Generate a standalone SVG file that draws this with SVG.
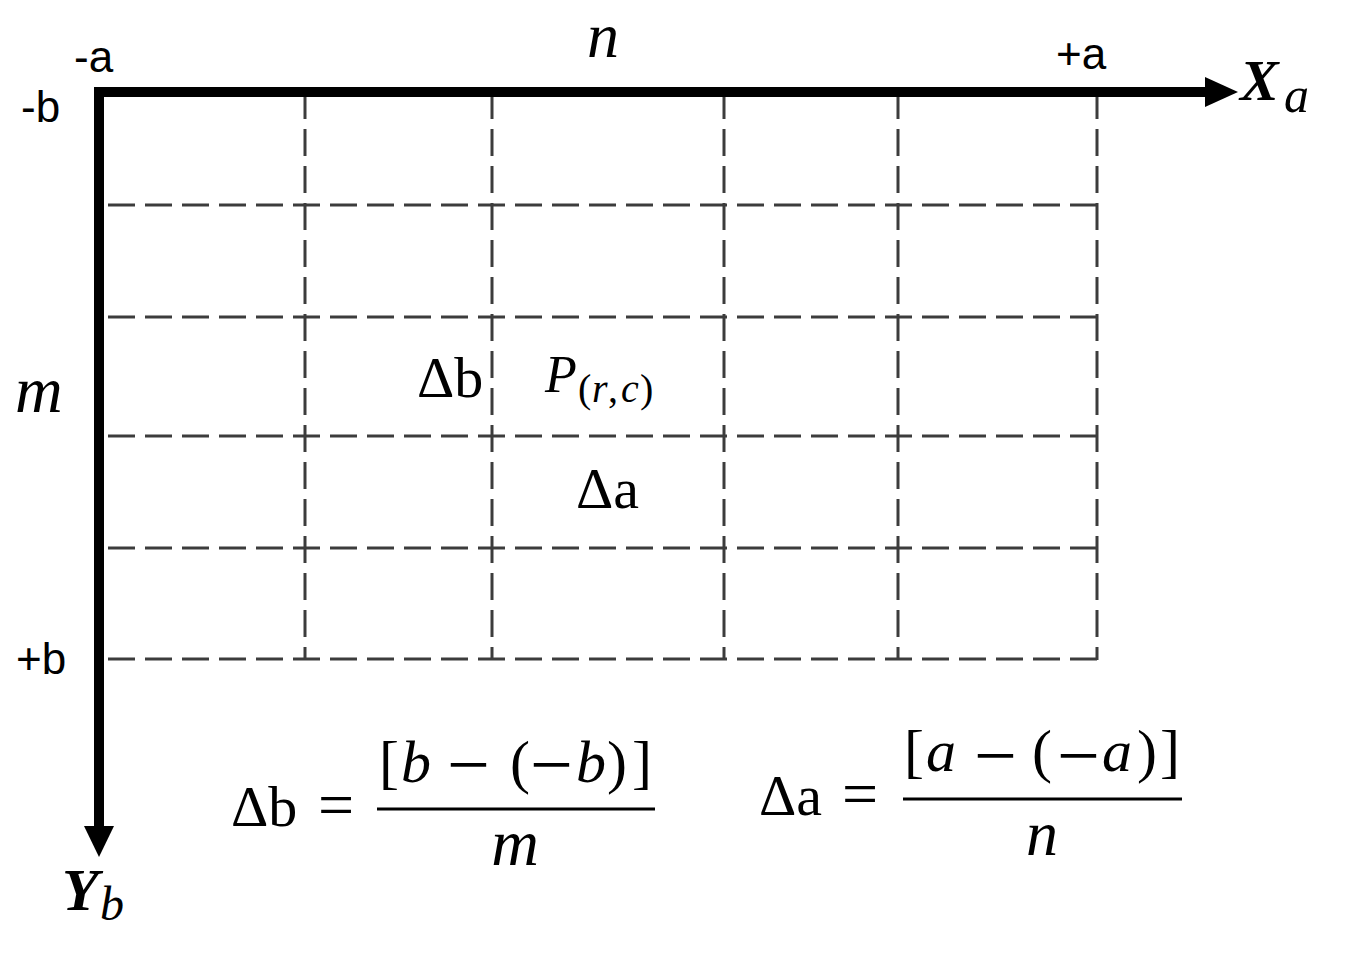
<svg xmlns="http://www.w3.org/2000/svg" width="1346" height="962" viewBox="0 0 1346 962">
<style>
.grid line{stroke:#3c3c3c;stroke-width:3;stroke-dasharray:27 10;fill:none}
.axis{stroke:#000;stroke-width:10;fill:none}
.head{fill:#000}
.sans{font-family:"Liberation Sans",Arial,sans-serif;font-size:44px;fill:#000}
.ser{font-family:"Liberation Serif","Times New Roman",serif;fill:#000}
.it{font-style:italic}
.mn{font-size:76px}
.bar{stroke:#000;stroke-width:3}
</style>
<rect width="1346" height="962" fill="#fff"/>
<g id="grid" class="grid">
<line x1="108" y1="205" x2="1097" y2="205"/>
<line x1="108" y1="317" x2="1097" y2="317"/>
<line x1="108" y1="436" x2="1097" y2="436"/>
<line x1="108" y1="548" x2="1097" y2="548"/>
<line x1="108" y1="659" x2="1097" y2="659"/>
<line x1="305" y1="92" x2="305" y2="660"/>
<line x1="492" y1="92" x2="492" y2="660"/>
<line x1="724" y1="92" x2="724" y2="660"/>
<line x1="898" y1="92" x2="898" y2="660"/>
<line x1="1097" y1="92" x2="1097" y2="660"/>
</g>
<g id="connectors">
<line class="axis" x1="94" y1="92" x2="1210" y2="92"/>
<polygon class="head" points="1205,77 1238,92 1205,107"/>
<line class="axis" x1="99" y1="87" x2="99" y2="830"/>
<polygon class="head" points="84,826 114,826 99,857"/>
</g>
<g id="axis-labels">
<text class="sans" x="74" y="72">-a</text>
<text class="sans" x="21" y="122">-b</text>
<text class="sans" x="1056" y="69">+a</text>
<text class="sans" x="16" y="674">+b</text>
<text class="ser it" x="587" y="57" font-size="64">n</text>
<text class="ser it" x="15" y="412" font-size="66">m</text>
<text class="ser it" font-weight="bold" x="1240" y="100" font-size="58">X</text>
<text class="ser it" x="1284" y="112" font-size="50">a</text>
<text class="ser it" font-weight="bold" x="62" y="910" font-size="60">Y</text>
<text class="ser it" x="100" y="920" font-size="48">b</text>
</g>
<g id="cell-labels">
<text class="ser" x="417" y="397" font-size="58">Δb</text>
<text class="ser it" x="545" y="392" font-size="52">P</text>
<text class="ser" y="402" font-size="40"><tspan x="578">(</tspan><tspan class="it" x="592">r</tspan><tspan x="608">,</tspan><tspan class="it" x="621">c</tspan><tspan x="640">)</tspan></text>
<text class="ser" x="576" y="508" font-size="58">Δa</text>
</g>
<g id="formula-b">
<text class="ser" x="231" y="826" font-size="58">Δb</text>
<text class="ser" x="318" y="826" font-size="64">=</text>
<text class="ser" font-size="60"><tspan x="379" y="782">[</tspan><tspan class="it" x="401" y="782">b</tspan><tspan class="mn" x="447" y="790">−</tspan><tspan x="510" y="782">(</tspan><tspan class="mn" x="530" y="790">−</tspan><tspan class="it" x="576" y="782">b</tspan><tspan x="607" y="782">)</tspan><tspan x="632" y="782">]</tspan></text>
<line class="bar" x1="377" y1="809" x2="655" y2="809"/>
<text class="ser it" x="515" y="865" font-size="66" text-anchor="middle">m</text>
</g>
<g id="formula-a">
<text class="ser" x="759" y="815" font-size="58">Δa</text>
<text class="ser" x="842" y="815" font-size="64">=</text>
<text class="ser" font-size="60"><tspan x="904" y="771">[</tspan><tspan class="it" x="926" y="771">a</tspan><tspan class="mn" x="974" y="781">−</tspan><tspan x="1032" y="771">(</tspan><tspan class="mn" x="1057" y="781">−</tspan><tspan class="it" x="1102" y="771">a</tspan><tspan x="1137" y="771">)</tspan><tspan x="1160" y="771">]</tspan></text>
<line class="bar" x1="903" y1="799" x2="1182" y2="799"/>
<text class="ser it" x="1042" y="855" font-size="64" text-anchor="middle">n</text>
</g>
</svg>
